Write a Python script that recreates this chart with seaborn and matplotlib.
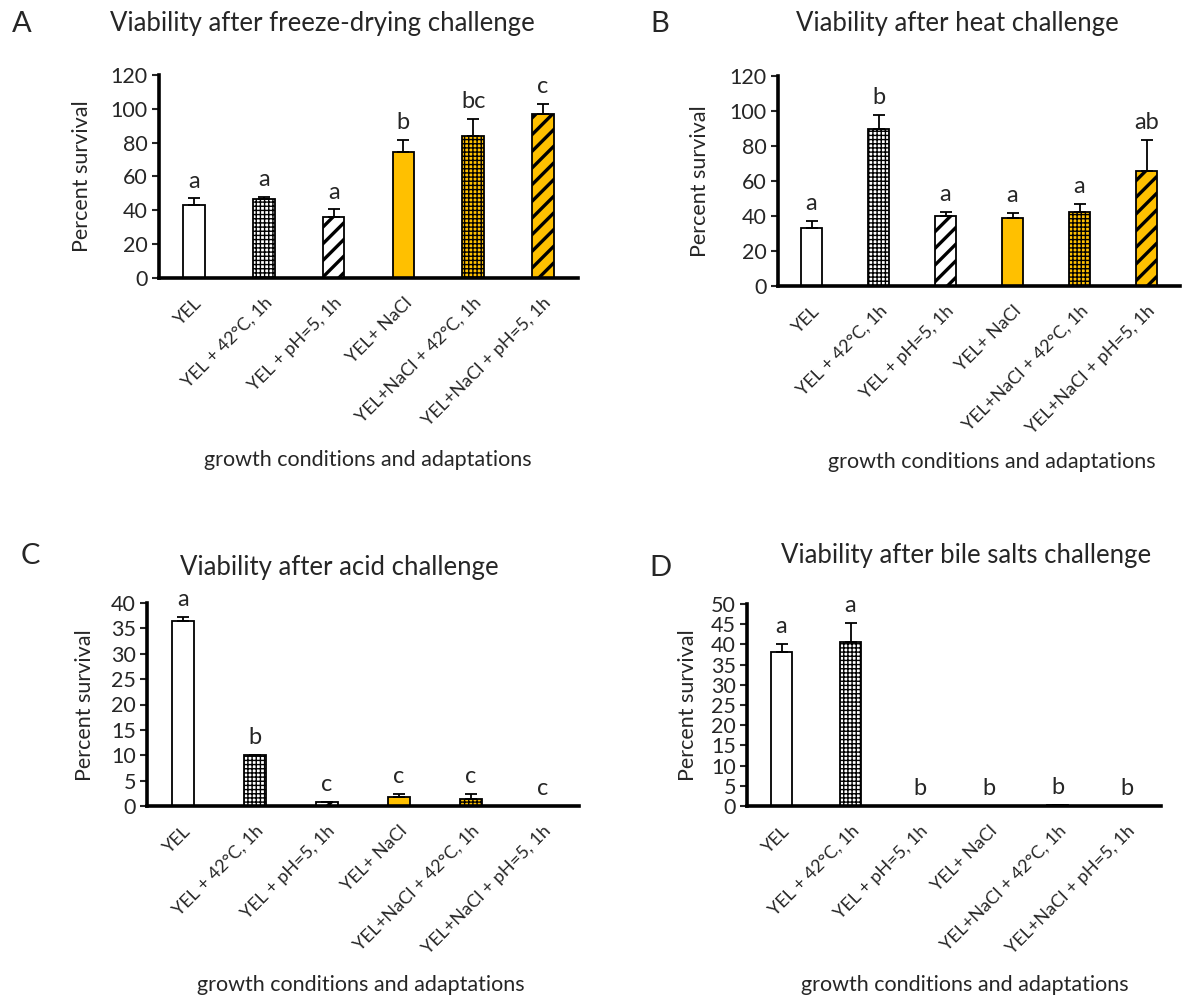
import numpy as np
import pandas as pd
import matplotlib
matplotlib.use("Agg")
import matplotlib.pyplot as plt
import seaborn as sns

conditions = ["YEL", "YEL + 42°C, 1h", "YEL + pH=5, 1h", "YEL+ NaCl",
              "YEL+NaCl + 42°C, 1h", "YEL+NaCl + pH=5, 1h"]

freeze_mean = [43, 46.5, 36, 74.5, 84, 97]
freeze_err = [4, 1.5, 4.5, 7, 10, 6]
freeze_letters = ["a", "a", "a", "b", "bc", "c"]

heat_mean = [33, 89.5, 40, 39, 42.5, 65.5]
heat_err = [4, 8, 2.5, 3, 4.5, 18]
heat_letters = ["a", "b", "a", "a", "a", "ab"]

acid_mean = [36.5, 10, 0.8, 1.8, 1.4, 0]
acid_err = [0.7, 0, 0, 0.5, 0.9, 0]
acid_letters = ["a", "b", "c", "c", "c", "c"]

bile_mean = [38.2, 40.5, 0, 0, 0.2, 0]
bile_err = [2, 4.8, 0, 0, 0.1, 0]
bile_letters = ["a", "a", "b", "b", "b", "b"]

bar_colors = ["white", "white", "white", "#FFC000", "#FFC000", "#FFC000"]
bar_hatches = [None, "++++", "//", None, "++++", "//"]

sns.set_style("ticks")
plt.rcParams["font.family"] = ["Lato", "DejaVu Sans"]

W, H = 1202, 1001
fig = plt.figure(figsize=(W / 100, H / 100), dpi=100)


def px(x, y):
    return x / W, 1 - y / H


def panel(rect, mean, err, letters, ymax, ystep, title, letter, pos):
    l, t, r, b = rect
    ax = fig.add_axes([l / W, 1 - b / H, (r - l) / W, (b - t) / H])
    df = pd.DataFrame({"cond": conditions, "val": mean})
    sns.barplot(data=df, x="cond", y="val", hue="cond", palette=bar_colors,
                saturation=1, width=0.31, edgecolor="black", linewidth=1.3,
                legend=False, ax=ax)
    for p, h in zip(ax.patches, bar_hatches):
        if h:
            p.set_hatch(h)
            if hasattr(p, "set_hatch_linewidth"):
                p.set_hatch_linewidth(2.4 if h == "//" else 1.0)
    xs = np.arange(len(mean))
    ax.errorbar(xs, mean, yerr=[np.zeros(len(err)), err], fmt="none",
                ecolor="black", elinewidth=1.3, capsize=4, capthick=1.3)
    for x, m, e, s in zip(xs, mean, err, letters):
        ax.annotate(s, (x, m + e), xytext=(0, 5), textcoords="offset points",
                    ha="center", va="bottom", fontsize=17)
    ax.set_xlim(-0.5, len(mean) - 0.5)
    ax.set_ylim(0, ymax)
    ax.set_yticks(np.arange(0, ymax + 1, ystep))
    ax.set_xticks(xs)
    ax.set_xticklabels(conditions, rotation=45, ha="right", rotation_mode="anchor",
                       fontsize=13)
    ax.tick_params(axis="x", length=0, pad=12)
    ax.tick_params(axis="y", labelsize=15.5, length=5, width=1.5, direction="out",
                   pad=3)
    ax.set_xlabel("")
    ax.set_ylabel("")
    sns.despine(ax=ax)
    for s in ["left", "bottom"]:
        ax.spines[s].set_linewidth(2.6)
        ax.spines[s].set_color("black")
    ax.set_facecolor("white")
    fig.text(*px(*pos["title"]), title, fontsize=18.5, ha="center", va="center")
    fig.text(*px(*pos["letter"]), letter, fontsize=21, ha="center", va="center")
    fig.text(*px(*pos["ylabel"]), "Percent survival", fontsize=15.5, rotation=90,
             ha="center", va="center")
    fig.text(*px(*pos["xlabel"]), "growth conditions and adaptations", fontsize=15.5,
             ha="center", va="center")
    return ax


panel((159, 75, 578, 278), freeze_mean, freeze_err, freeze_letters, 120, 20,
      "Viability after freeze-drying challenge", "A",
      {"title": (322, 24), "letter": (22, 24), "ylabel": (82, 176), "xlabel": (368, 460)})
panel((778, 76, 1180, 286), heat_mean, heat_err, heat_letters, 120, 20,
      "Viability after heat challenge", "B",
      {"title": (957, 24), "letter": (660, 24), "ylabel": (700, 181), "xlabel": (992, 462)})
panel((147, 603, 579, 806), acid_mean, acid_err, acid_letters, 40, 5,
      "Viability after acid challenge", "C",
      {"title": (339, 568), "letter": (30, 556), "ylabel": (85, 705), "xlabel": (361, 985)})
panel((747, 604, 1161, 806), bile_mean, bile_err, bile_letters, 50, 5,
      "Viability after bile salts challenge", "D",
      {"title": (966, 556), "letter": (660, 568), "ylabel": (688, 705), "xlabel": (965, 985)})

fig.savefig("out.png", dpi=100, facecolor="white")
